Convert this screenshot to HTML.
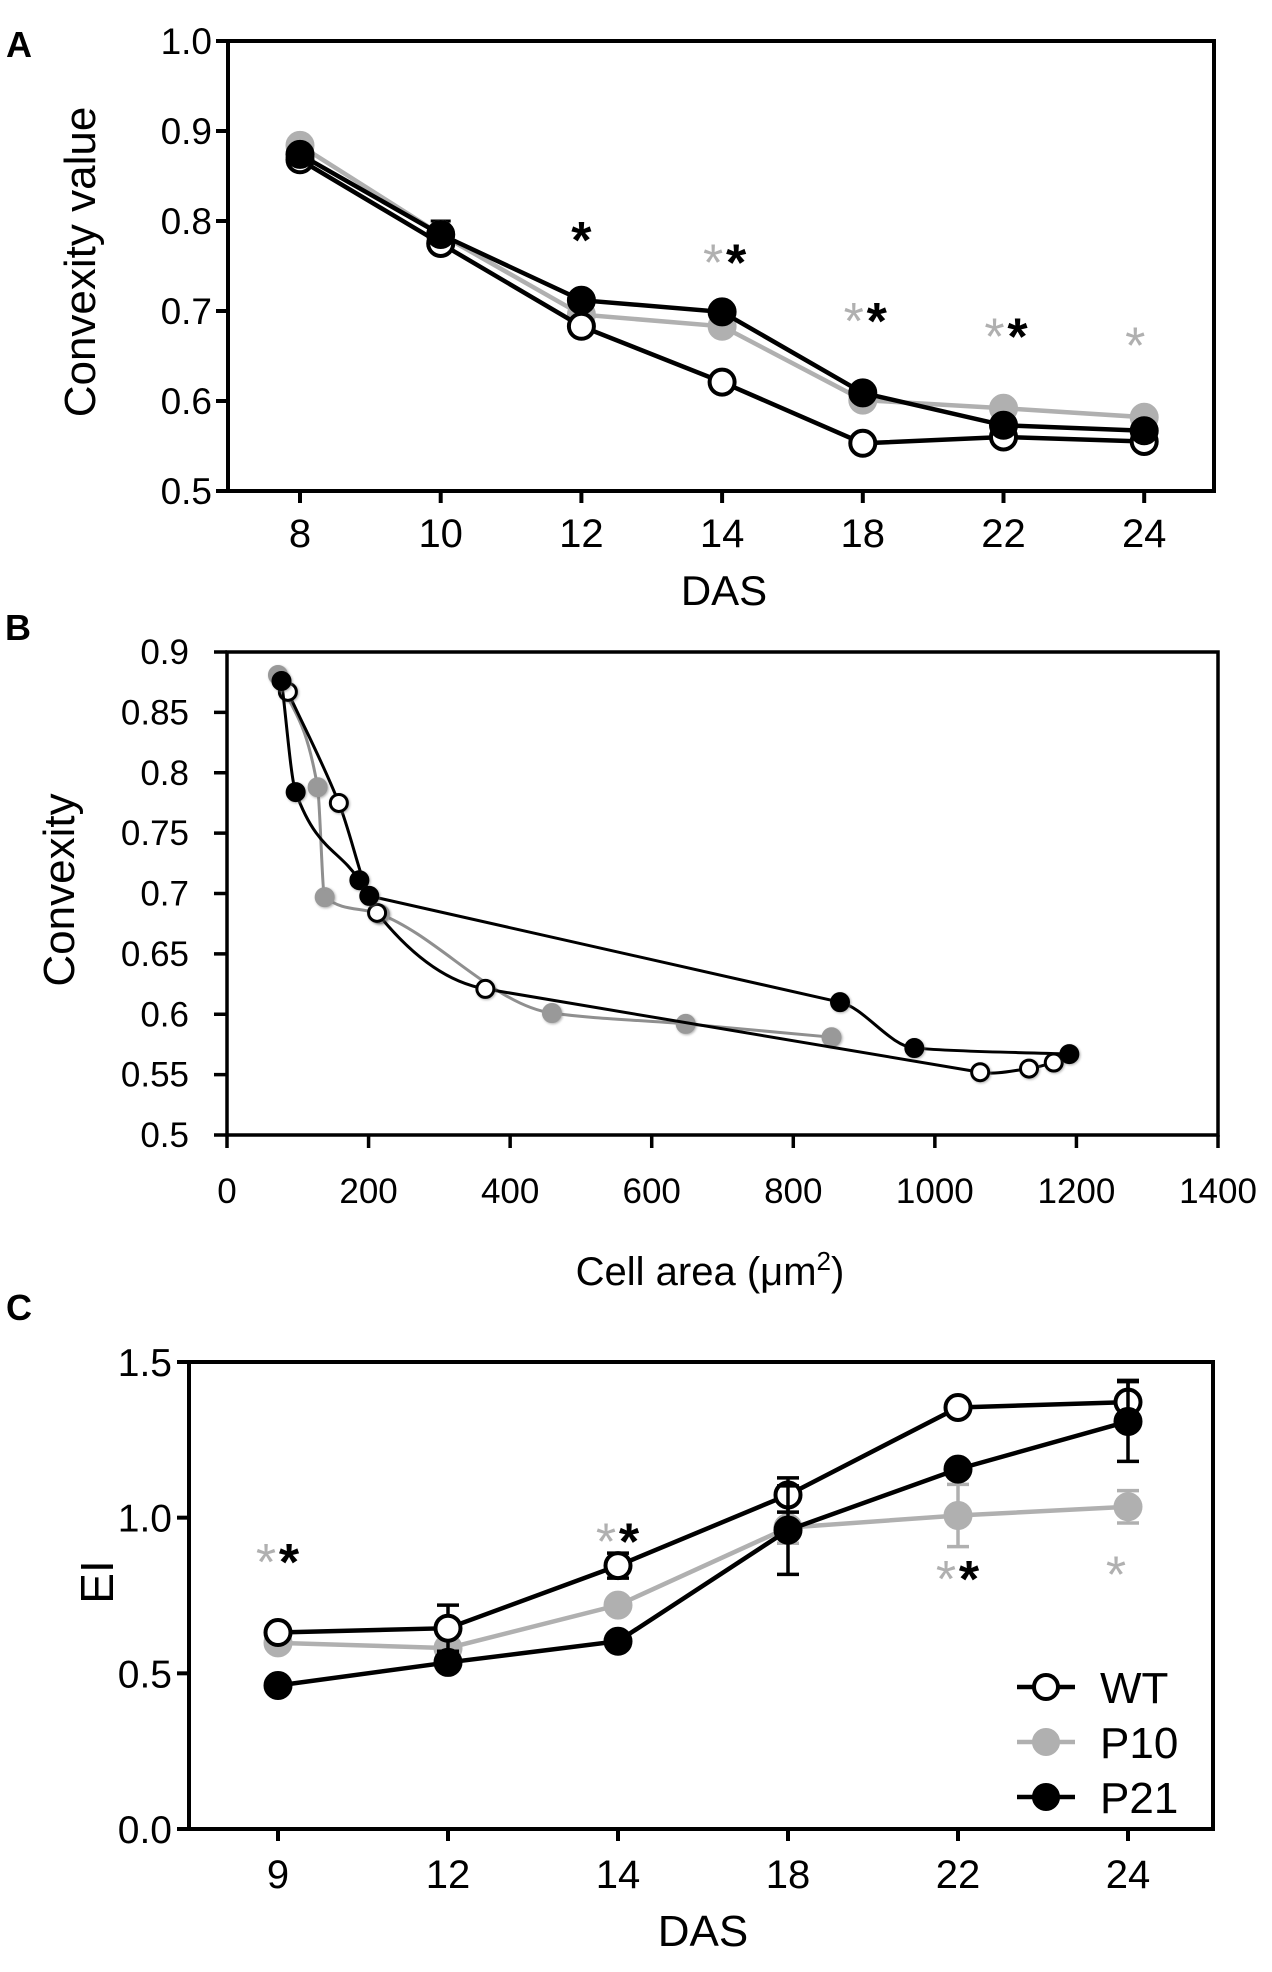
<!DOCTYPE html>
<html><head><meta charset="utf-8"><style>
html,body{margin:0;padding:0;background:#fff;}
svg{display:block;font-family:"Liberation Sans",Arial,sans-serif;}
</style></head><body>
<svg id="fig" width="1272" height="1972" viewBox="0 0 1272 1972" xmlns="http://www.w3.org/2000/svg">
<defs><filter id="blur" x="-50%" y="-50%" width="200%" height="200%"><feGaussianBlur stdDeviation="1.2"/></filter></defs>
<text x="6" y="57" font-size="36" font-weight="bold">A</text>
<text x="5" y="640" font-size="36" font-weight="bold">B</text>
<text x="6" y="1320" font-size="36" font-weight="bold">C</text>
<g id="pa"></g>
<g id="pb"></g>
<g id="pc"></g>
</svg>
<script>
// ---- Panel A data ----
const aCategories = ["8","10","12","14","18","22","24"];
const aWT  = [0.868,0.775,0.683,0.621,0.553,0.560,0.555];
const aP10 = [0.884,0.785,0.696,0.683,0.601,0.592,0.582];
const aP21 = [0.874,0.785,0.712,0.699,0.609,0.573,0.567];
const aYTicks = [0.5,0.6,0.7,0.8,0.9,1.0];
const aStars = [{i:2,g:false,b:true,v:0.79},{i:3,g:true,b:true,v:0.765},{i:4,g:true,b:true,v:0.70},{i:5,g:true,b:true,v:0.683},{i:6,g:true,b:false,v:0.673}];
// ---- Panel B data ----
const bWTx  = [86,158,212,365,1064,1133,1168];
const bWTy  = [0.867,0.775,0.684,0.621,0.552,0.555,0.560];
const bP10x = [72,128,138,216,459,648,854];
const bP10y = [0.881,0.788,0.697,0.683,0.601,0.592,0.581];
const bP21x = [77,97,187,201,866,971,1190];
const bP21y = [0.876,0.784,0.711,0.698,0.610,0.572,0.567];
const bXTicks = [0,200,400,600,800,1000,1200,1400];
const bYTicks = [0.5,0.55,0.6,0.65,0.7,0.75,0.8,0.85,0.9];
// ---- Panel C data ----
const cCategories = ["9","12","14","18","22","24"];
const cWT  = [0.631,0.645,0.846,1.073,1.354,1.371];
const cWTerr = [0,0.074,0.04,0.055,0,0.07];
const cP10 = [0.598,0.581,0.719,0.968,1.007,1.035];
const cP10err = [0,0,0,0.05,0.1,0.052];
const cP21 = [0.461,0.535,0.603,0.960,1.156,1.309];
const cP21err = [0,0,0,0.142,0,0.128];
const cYTicks = [0.0,0.5,1.0,1.5];
const cStars = [{i:0,v:0.89},{i:2,v:0.955},{i:4,v:0.835},{i:5,v:0.85,only:true}];

const NS="http://www.w3.org/2000/svg";
function mk(parent,tag,attrs,text){const e=document.createElementNS(NS,tag);for(const k in attrs)e.setAttribute(k,attrs[k]);if(text!==undefined)e.textContent=text;parent.appendChild(e);return e;}
const GRAY="#b0b0b0";

function star(g,x,cy,color,bold){
  const t=mk(g,'text',{x:x,y:cy+28,'font-size':52,'text-anchor':'middle',fill:color,'font-weight':bold?'bold':'normal'},'*');
  
  
}

// ===== Panel A =====
(function(){
  const g=document.getElementById('pa');
  const L=228,R=1214,T=41,B=491;
  const xs=i=>300+i*140.7;
  const ys=v=>B-(v-0.5)/0.5*(B-T);
  mk(g,'path',{d:`M${L} ${T}H${R}V${B}H${L}Z`,fill:'none',stroke:'#000','stroke-width':4});
  aYTicks.forEach(v=>{const y=ys(v);mk(g,'line',{x1:L-12,x2:L,y1:y,y2:y,stroke:'#000','stroke-width':4});
    const t=mk(g,'text',{x:212,y:y+13,'font-size':37,'text-anchor':'end'},v.toFixed(1));
    });
  aCategories.forEach((c,i)=>{const x=xs(i);mk(g,'line',{x1:x,x2:x,y1:B,y2:B+12,stroke:'#000','stroke-width':4});
    const t=mk(g,'text',{x:x,y:547,'font-size':40,'text-anchor':'middle'},c);
    });
  const yt=mk(g,'text',{x:0,y:0,'font-size':44,'text-anchor':'middle',transform:'translate(95,262) rotate(-90)'},'Convexity value');
  
  const xt=mk(g,'text',{x:724,y:605,'font-size':42,'text-anchor':'middle'},'DAS');
  
  mk(g,'line',{x1:xs(1),x2:xs(1),y1:ys(0.80),y2:ys(0.775),stroke:'#000','stroke-width':3});
  mk(g,'line',{x1:xs(1)-10,x2:xs(1)+10,y1:ys(0.80),y2:ys(0.80),stroke:'#000','stroke-width':3});
  const series=[[aP10,GRAY,GRAY,'series-p10'],[aWT,'#000','#fff','series-wt'],[aP21,'#000','#000','series-p21']];
  series.forEach(([d,lc,fc,name])=>{
    const sg=mk(g,'g',{});
    mk(sg,'polyline',{points:d.map((v,i)=>xs(i)+','+ys(v)).join(' '),fill:'none',stroke:lc,'stroke-width':4.5});
    d.forEach((v,i)=>{const c=mk(sg,'circle',{cx:xs(i),cy:ys(v),r:12.5,fill:fc,stroke:lc,'stroke-width':4});
      });
  });
  aStars.forEach(s=>{const x=xs(s.i);const y=ys(s.v);
    if(s.g&&s.b){star(g,x-9,y,GRAY,false);star(g,x+14,y,'#000',true);}
    else if(s.g){star(g,x-9,y,GRAY,false);} else {star(g,x,y,'#000',true);}});
})();

// ===== Panel B: monotone cubic path; long segments drawn straight =====
function monoPath(pts){
  const n=pts.length;const dx=[],dy=[],m=[];
  for(let i=0;i<n-1;i++){dx.push(Math.max(pts[i+1][0]-pts[i][0],0.001));dy.push(pts[i+1][1]-pts[i][1]);m.push(dy[i]/dx[i]);}
  const t=[m[0]];
  for(let i=1;i<n-1;i++){ if(m[i-1]*m[i]<=0)t.push(0); else { const w1=2*dx[i]+dx[i-1],w2=dx[i]+2*dx[i-1]; t.push((w1+w2)/(w1/m[i-1]+w2/m[i])); } }
  t.push(m[n-2]);
  const ts=t.map(v=>[v,v]); // [incoming, outgoing]
  for(let i=0;i<n-1;i++){ if(dx[i]>300){ ts[i][1]=m[i]; ts[i+1][0]=m[i]; ts[i][0]=m[i]; ts[i+1][1]=m[i]; } }
  let d=`M${pts[0][0]} ${pts[0][1]}`;
  for(let i=0;i<n-1;i++){const h=dx[i]/3;
    d+=` C${pts[i][0]+h} ${pts[i][1]+ts[i][1]*h} ${pts[i+1][0]-h} ${pts[i+1][1]-ts[i+1][0]*h} ${pts[i+1][0]} ${pts[i+1][1]}`;}
  return d;
}
(function(){
  const g=document.getElementById('pb');
  const L=227,R=1218,T=652,B=1135;
  const xs=v=>L+v/1400*(R-L);
  const ys=v=>B-(v-0.5)/0.4*(B-T);
  mk(g,'path',{d:`M${L} ${T}H${R}V${B}H${L}Z`,fill:'none',stroke:'#000','stroke-width':3.5});
  bYTicks.forEach(v=>{const y=ys(v);mk(g,'line',{x1:L-13,x2:L,y1:y,y2:y,stroke:'#000','stroke-width':3.5});
    const t=mk(g,'text',{x:189,y:y+12,'font-size':35,'text-anchor':'end'},String(+v.toFixed(2)));
    });
  bXTicks.forEach(v=>{const x=xs(v);mk(g,'line',{x1:x,x2:x,y1:B,y2:B+13,stroke:'#000','stroke-width':3.5});
    const t=mk(g,'text',{x:x,y:1203,'font-size':35,'text-anchor':'middle'},String(v));
    });
  const yt=mk(g,'text',{x:0,y:0,'font-size':44,'text-anchor':'middle',transform:'translate(74,890) rotate(-90)'},'Convexity');
  
  const xt=mk(g,'text',{x:710,y:1285,'font-size':40,'text-anchor':'middle'});
  
  xt.textContent='Cell area (μm';
  mk(xt,'tspan',{'font-size':26,dy:-15},'2');
  mk(xt,'tspan',{dy:15},')');
  const series=[[bP10x,bP10y,'#8f8f8f','#999','series-p10'],[bWTx,bWTy,'#000','#fff','series-wt'],[bP21x,bP21y,'#000','#000','series-p21']];
  series.forEach(([xd,yd,lc,fc,name])=>{
    const sg=mk(g,'g',{});
    const pts=xd.map((v,i)=>[xs(v),ys(yd[i])]);
    mk(sg,'path',{d:monoPath(pts),fill:'none',stroke:lc,'stroke-width':3});
    pts.forEach(p=>{mk(sg,'circle',{cx:p[0]+1,cy:p[1]+1,r:10,fill:'#777',filter:'url(#blur)',opacity:0.6});
      const c=mk(sg,'circle',{cx:p[0],cy:p[1],r:8.5,fill:fc,stroke:lc==='#8f8f8f'?'#999':'#000','stroke-width':3});
      });
  });
})();

// ===== Panel C =====
(function(){
  const g=document.getElementById('pc');
  const L=189,R=1213,T=1362,B=1829;
  const xs=i=>278+i*170;
  const ys=v=>B-v/1.5*(B-T);
  mk(g,'path',{d:`M${L} ${T}H${R}V${B}H${L}Z`,fill:'none',stroke:'#000','stroke-width':4});
  cYTicks.forEach(v=>{const y=ys(v);mk(g,'line',{x1:L-12,x2:L,y1:y,y2:y,stroke:'#000','stroke-width':4});
    const t=mk(g,'text',{x:172,y:y+14,'font-size':39,'text-anchor':'end'},v.toFixed(1));
    });
  cCategories.forEach((c,i)=>{const x=xs(i);mk(g,'line',{x1:x,x2:x,y1:B,y2:B+12,stroke:'#000','stroke-width':4});
    const t=mk(g,'text',{x:x,y:1888,'font-size':40,'text-anchor':'middle'},c);
    });
  const yt=mk(g,'text',{x:0,y:0,'font-size':46,'text-anchor':'middle',transform:'translate(113,1582) rotate(-90)'},'EI');
  
  const xt=mk(g,'text',{x:703,y:1946,'font-size':44,'text-anchor':'middle'},'DAS');
  
  const series=[[cP10,cP10err,GRAY,GRAY,'series-p10'],[cWT,cWTerr,'#000','#fff','series-wt'],[cP21,cP21err,'#000','#000','series-p21']];
  series.forEach(([d,e,lc,fc,name])=>{
    const sg=mk(g,'g',{});
    d.forEach((v,i)=>{if(e[i]>0){const x=xs(i),y1=ys(v+e[i]),y2=ys(v-e[i]);
      mk(sg,'line',{x1:x,x2:x,y1:y1,y2:y2,stroke:lc,'stroke-width':3.5});
      mk(sg,'line',{x1:x-11,x2:x+11,y1:y1,y2:y1,stroke:lc,'stroke-width':3.5});
      mk(sg,'line',{x1:x-11,x2:x+11,y1:y2,y2:y2,stroke:lc,'stroke-width':3.5});}});
    mk(sg,'polyline',{points:d.map((v,i)=>xs(i)+','+ys(v)).join(' '),fill:'none',stroke:lc,'stroke-width':4.5});
    d.forEach((v,i)=>{const c=mk(sg,'circle',{cx:xs(i),cy:ys(v),r:12.5,fill:fc,stroke:lc,'stroke-width':4});
      });
  });
  cStars.forEach(s=>{const x=xs(s.i),y=ys(s.v);
    if(s.only){star(g,x-12,y,GRAY,false);} else {star(g,x-12,y,GRAY,false);star(g,x+11,y,'#000',true);}});
  const leg=mk(g,'g',{});
  const items=[['WT','#000','#fff',1687],['P10',GRAY,GRAY,1742],['P21','#000','#000',1797]];
  items.forEach(([lab,lc,fc,y])=>{
    const it=mk(leg,'g',{});
    mk(it,'line',{x1:1017,x2:1075,y1:y,y2:y,stroke:lc,'stroke-width':4.5});
    mk(it,'circle',{cx:1046,cy:y,r:12,fill:fc,stroke:lc,'stroke-width':4});
    mk(it,'text',{x:1100,y:y+16,'font-size':44},lab);
  });
})();
</script>
</body></html>
